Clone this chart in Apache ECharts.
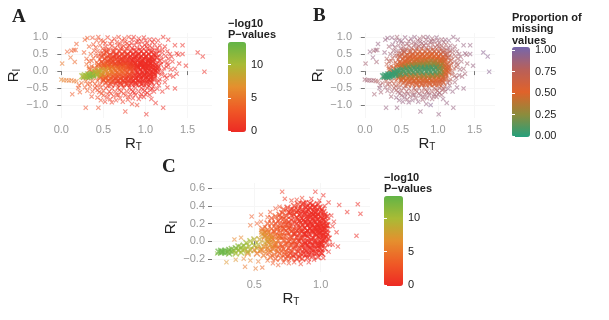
<!DOCTYPE html>
<html><head><meta charset="utf-8">
<style>html,body{margin:0;padding:0;background:#fff}#c{width:609px;height:320px}</style>
<script src="https://cdn.jsdelivr.net/npm/echarts@6/dist/echarts.min.js"></script></head>
<body><div id="c"></div>
<script>
// [R_T, R_I, -log10 P, proportion of missing values]
const outerAB=[[.29,-1.08,2,.9],[.44,-1.08,2,.9],[.76,-1.19,1,.9],[1.01,-1.27,0,.9],[.84,-.97,1,.9],[.9,-1,1,.95],[1.07,-.82,0,.9],[1.12,-.94,0,.9],[1.21,-1.08,0,.9],[1.35,-.51,0,.9],[1.26,-.48,0,.9],[1.7,-.02,0,.95],[1.68,.43,0,.95],[1.62,.55,0,.95],[1.44,.76,0,.9],[1.35,.76,0,.9],[1.21,1,0,.9],[1.27,.92,0,.9],[1.15,.9,0,.9],[1.44,.5,0,.9],[1.37,.52,0,.9],[1.39,.48,0,.85],[1.4,.22,0,.85],[1.48,.16,0,.9],[1.35,.07,0,.85],[1.32,.28,0,.85],[.18,.8,3,.9],[.31,.97,3,.9],[.28,.92,3,.9],[.15,.62,3,.9],[.12,.6,3,.85],[.07,.57,3,.9],[.11,.4,4,.9],[.01,.22,5,.85],[.16,.27,4,.85],[.17,.62,3,.85],[.33,.72,3,.85],[.35,.5,3,.85],[.3,.36,3,.8],[.27,.55,3,.9],[0,-.25,6,.85],[.03,-.27,6,.85],[.06,-.27,5,.85],[.09,-.28,5,.85],[.12,-.27,5,.85],[.15,-.29,5,.8],[.18,-.3,5,.8],[.13,-.68,3,.85],[.2,-.5,3,.9],[.21,-.42,3,.85],[.22,-.62,3,.85],[.24,-.35,4,.8],[1.27,.18,0,.8],[1.29,-.12,0,.85],[1.33,-.16,0,.85],[1.25,-.2,0,.85],[1.37,-.08,0,.85],[1.3,.05,0,.85],[1.23,-.33,0,.85],[1.2,-.6,0,.9],[1.14,-.52,0,.9],[1.16,-.42,0,.85]];
const sparseAB=[[.37,.98,2,.9],[.42,.9,2,.9],[.44,1,2,.85],[.5,.88,2,.9],[.55,.99,1,.9],[.58,.8,1,.85],[.63,.95,1,.9],[.66,.85,1,.85],[.68,1,1,.9],[.72,.9,1,.85],[.75,.96,1,.85],[.78,.82,1,.85],[.8,1,1,.85],[.84,.92,0,.85],[.86,1,0,.9],[.89,.85,0,.85],[.92,.96,0,.85],[.95,.88,0,.85],[.98,.99,0,.9],[1.02,.82,0,.85],[1.05,.93,0,.85],[1.08,.85,0,.85],[.38,.78,2,.9],[.41,.7,2,.85],[.46,.76,2,.85],[.49,.66,2,.85],[.53,.72,1,.8],[.56,.63,1,.8],[.6,.74,1,.8],[.64,.68,1,.8],[.67,.76,1,.8],[.7,.66,1,.8],[.74,.74,1,.8],[.77,.66,1,.8],[.81,.75,0,.8],[.84,.67,0,.8],[.87,.76,0,.8],[.9,.68,0,.8],[.93,.78,0,.8],[.96,.7,0,.8],[.99,.77,0,.8],[1.02,.66,0,.8],[1.05,.74,0,.8],[1.08,.68,0,.8],[1.11,.78,0,.8],[1.14,.68,0,.85],[1.17,.75,0,.85],[1.2,.63,0,.85],[1.23,.72,0,.85],[1.26,.58,0,.85],[1.29,.5,0,.85],[1.24,.44,0,.8],[1.27,.36,0,.8],[1.22,.28,0,.8],[1.25,.12,0,.75],[1.2,.54,0,.8],[1.16,.58,0,.8],[.36,-.75,2,.85],[.43,-.78,2,.9],[.45,-.62,2,.85],[.47,-.86,2,.9],[.5,-.72,2,.85],[.52,-.9,1,.9],[.55,-.68,1,.85],[.58,-.83,1,.85],[.6,-.92,1,.9],[.62,-.74,1,.85],[.65,-.86,1,.9],[.68,-.7,1,.85],[.7,-.8,1,.85],[.73,-.9,1,.9],[.76,-.72,1,.85],[.79,-.84,1,.85],[.82,-.68,0,.85],[.85,-.8,0,.85],[.88,-.7,0,.85],[.92,-.82,0,.85],[.95,-.68,0,.85],[.98,-.76,0,.85],[1.02,-.64,0,.85],[1.05,-.7,0,.85],[1.1,-.6,0,.85],[.28,-.48,3,.85],[.31,-.58,3,.85],[.34,-.46,3,.8],[.37,-.6,2,.85],[.4,-.5,2,.8],[.43,-.56,2,.8],[.47,-.48,2,.8],[.5,-.58,2,.8],[.53,-.5,1,.8],[.57,-.6,1,.8],[.6,-.52,1,.8],[.64,-.6,1,.8],[.67,-.5,1,.8],[.71,-.6,1,.8],[.74,-.5,1,.8],[.78,-.6,1,.8],[.81,-.5,0,.8],[.85,-.6,0,.8],[.88,-.5,0,.8],[.92,-.6,0,.8],[.95,-.5,0,.8],[.99,-.58,0,.8],[1.02,-.5,0,.8],[1.06,-.56,0,.8],[1.09,-.46,0,.8],[1.13,-.34,0,.8],[.3,.2,4,.7],[.33,.28,3,.75],[.36,.14,3,.7],[.38,.38,3,.75],[.41,.46,2,.8],[.43,.58,2,.85],[.39,.6,2,.85],[.46,.34,2,.75],[.47,.52,2,.8],[.51,.6,1,.8],[.26,-.2,5,.7],[.29,-.3,4,.75],[.32,-.22,4,.7],[.34,-.36,3,.75],[.37,-.3,3,.7],[.4,-.38,3,.7],[.43,-.28,3,.65],[.46,-.4,2,.7],[.49,-.32,2,.65],[1.22,.08,0,.75],[1.18,.2,0,.7],[1.19,-.1,0,.75],[1.17,-.24,0,.75],[1.2,-.02,0,.75],[.47,.9,2,.88],[.52,.82,1,.85],[.6,.88,1,.85],[.7,.8,1,.85],[.76,.86,1,.85],[.83,.82,0,.85],[.91,.88,0,.85],[1,.9,0,.85],[1.1,.92,0,.88],[.54,.62,1,.8],[.62,.62,1,.78],[.72,.7,1,.78],[.79,.72,1,.78],[.86,.62,0,.75],[.94,.64,0,.75],[1.01,.72,0,.78],[1.07,.62,0,.8],[1.13,.62,0,.8],[1.19,.42,0,.78],[1.26,.24,0,.8],[1.31,.42,0,.85],[.48,-.66,2,.85],[.54,-.78,1,.88],[.59,-.66,1,.85],[.66,-.7,1,.85],[.74,-.66,1,.85],[.8,-.76,1,.85],[.87,-.64,0,.85],[.94,-.74,0,.85],[1,-.68,0,.85],[1.08,-.52,0,.82],[1.16,-.3,0,.8],[1.23,-.14,0,.8],[.42,-.44,2,.75],[.55,-.44,1,.75],[.69,-.56,1,.78],[.83,-.55,0,.78],[.97,-.54,0,.78],[1.04,-.44,0,.72],[.44,.44,2,.72],[.36,.3,3,.72],[.42,.26,3,.68],[.33,.1,4,.68],[.38,-.2,4,.62],[.31,-.38,3,.78]];
const midAB=[[.5,.5,2,.7],[.54,.56,2,.7],[.58,.48,1,.65],[.62,.57,1,.65],[.65,.5,1,.65],[.69,.58,1,.65],[.72,.5,1,.6],[.75,.57,1,.6],[.79,.5,1,.6],[.82,.58,0,.6],[.85,.5,0,.6],[.89,.58,0,.65],[.92,.5,0,.6],[.95,.58,0,.65],[.98,.5,0,.65],[1.01,.57,0,.65],[1.04,.5,0,.65],[1.07,.56,0,.7],[1.1,.49,0,.7],[1.13,.5,0,.75],[.48,.42,2,.65],[.52,.36,2,.6],[.55,.44,2,.6],[.59,.36,1,.55],[.62,.43,1,.55],[.66,.37,1,.55],[.69,.44,1,.55],[.72,.36,1,.5],[.76,.43,1,.5],[.79,.36,1,.5],[.82,.44,0,.5],[.86,.36,0,.5],[.89,.44,0,.5],[.92,.36,0,.45],[.95,.44,0,.5],[.98,.36,0,.5],[1.01,.44,0,.55],[1.04,.36,0,.55],[1.07,.42,0,.6],[1.1,.35,0,.6],[1.14,.4,0,.7],[1.17,.3,0,.7],[.44,.2,3,.6],[.48,.27,2,.6],[.51,.18,2,.55],[.55,.28,2,.55],[.58,.2,2,.5],[.61,.29,2,.5],[.64,.22,1,.45],[.67,.3,1,.45],[.7,.22,1,.45],[.73,.3,1,.45],[.76,.23,1,.4],[.79,.3,1,.4],[.82,.22,1,.4],[.85,.3,0,.4],[.88,.23,0,.35],[.91,.31,0,.4],[.94,.22,0,.35],[.97,.3,0,.35],[1,.23,0,.4],[1.03,.3,0,.45],[1.06,.22,0,.5],[1.09,.28,0,.55],[1.12,.2,0,.6],[1.15,.13,0,.65],[.46,-.2,3,.6],[.5,-.26,2,.6],[.53,-.18,3,.55],[.56,-.28,2,.55],[.59,-.4,1,.65],[.62,-.26,2,.55],[.65,-.38,1,.6],[.68,-.27,1,.55],[.71,-.4,1,.6],[.74,-.27,1,.55],[.77,-.38,1,.6],[.8,-.26,1,.55],[.83,-.38,0,.6],[.86,-.27,0,.55],[.89,-.39,0,.6],[.92,-.26,0,.55],[.95,-.38,0,.6],[.98,-.25,0,.55],[1.01,-.38,0,.6],[1.04,-.25,0,.6],[1.07,-.34,0,.65],[1.1,-.22,0,.65],[.53,-.34,2,.6],[.48,-.12,4,.5],[.56,-.14,3,.45],[.62,-.17,3,.45],[.68,-.16,2,.45],[.74,-.18,2,.45],[.8,-.17,1,.45],[.86,-.18,1,.45],[.92,-.16,0,.45],[.98,-.15,0,.45],[1.04,-.15,0,.5],[1.1,-.1,0,.6],[1.14,-.03,0,.65],[1.1,.06,0,.55],[1.14,.06,0,.6],[.4,.08,4,.55],[.44,.12,4,.5],[.48,.1,4,.45],[.52,.11,3,.4],[.42,-.08,5,.5],[.37,-.06,6,.5],[.34,.04,4,.6],[.56,.16,3,.4]];
const denseAB=[[.56,.34,2,.58],[.61,.37,2,.55],[.65,.45,1,.55],[.7,.33,1,.52],[.74,.4,1,.5],[.78,.47,1,.55],[.83,.34,0,.5],[.87,.42,0,.5],[.91,.47,0,.52],[.96,.33,0,.5],[1,.42,0,.52],[1.04,.3,0,.5],[1.08,.36,0,.58],[.6,-.32,2,.58],[.66,-.3,1,.56],[.7,-.35,1,.58],[.75,-.33,1,.56],[.79,-.37,1,.58],[.84,-.32,0,.56],[.88,-.34,0,.58],[.93,-.33,0,.56],[.97,-.36,0,.58],[1.02,-.31,0,.58],[1.06,-.29,0,.6],[.5,.22,3,.52],[.54,.2,3,.5],[.59,.25,2,.48],[.63,.18,2,.45],[.68,.25,2,.42],[.72,.2,1,.42],[.77,.27,1,.4],[.81,.19,1,.38],[.86,.26,0,.36],[.9,.19,0,.34],[.95,.26,0,.34],[.99,.19,0,.38],[1.04,.25,0,.42],[1.08,.18,0,.48],[1.12,.12,0,.55],[.52,-.22,3,.5],[.58,-.22,3,.48],[.64,-.21,2,.48],[.7,-.23,2,.48],[.76,-.22,1,.48],[.82,-.23,1,.48],[.88,-.22,0,.48],[.94,-.22,0,.48],[1,-.21,0,.5],[1.06,-.2,0,.55],[1.1,-.16,0,.6],[.46,-.14,4,.45],[.51,-.16,4,.42],[.57,-.1,4,.35],[.63,-.12,3,.35],[.69,-.11,3,.33],[.75,-.13,2,.35],[.81,-.12,1,.33],[.87,-.13,1,.33],[.93,-.12,0,.33],[.99,-.12,0,.35],[1.05,-.11,0,.4],[1.1,-.05,0,.5],[1.12,.01,0,.55],[1.08,.1,0,.45],[.5,.14,4,.42],[.55,.12,4,.36],[.6,.15,3,.34],[.65,.17,2,.32],[.7,.12,2,.3],[.75,.18,2,.3],[.8,.13,1,.28],[.85,.19,1,.28],[.9,.12,0,.26],[.95,.19,0,.28],[1,.12,0,.28],[1.04,.17,0,.34],[.6,.12,3,.3],[.66,.14,2,.3],[.7,.16,2,.3],[.74,.14,2,.28],[.78,.16,2,.28],[.82,.14,1,.28],[.86,.16,1,.25],[.9,.14,0,.25],[.94,.16,0,.25],[.98,.14,0,.28],[1.02,.15,0,.3],[1.06,.12,0,.4],[.62,-.06,4,.3],[.68,-.08,3,.3],[.74,-.07,3,.3],[.8,-.1,2,.3],[.86,-.08,1,.28],[.92,-.09,0,.28],[.98,-.08,0,.28],[1.04,-.07,0,.35],[1.08,-.02,0,.45],[.57,.08,5,.15],[.62,.07,5,.12],[.67,.09,4,.1],[.72,.08,4,.1],[.77,.1,3,.1],[.82,.09,2,.08],[.87,.1,1,.08],[.92,.09,0,.08],[.97,.1,0,.1],[1.02,.08,0,.2],[.58,.02,6,.1],[.64,.03,5,.06],[.7,.04,4,.06],[.76,.03,3,.06],[.82,.04,2,.05],[.88,.03,1,.05],[.94,.04,0,.05],[1,.03,0,.1],[1.04,.02,0,.25],[.6,-.02,5,.12],[.66,-.03,4,.1],[.72,-.01,4,.1],[.78,-.03,3,.1],[.84,-.01,2,.1],[.9,-.03,0,.1],[.96,-.02,0,.1],[1.02,-.03,0,.2],[.52,.04,7,.08],[.48,.02,8,.06],[.53,-.01,7,.08],[.45,-.03,8,.08],[.49,-.05,8,.06],[.44,-.07,10,.04],[.47,-.1,7,.2],[.41,-.05,10,.04],[.38,-.1,11,.03],[.42,-.11,10,.04],[.35,-.11,12,.03],[.38,-.13,12,.02],[.33,-.13,12,.02],[.3,-.15,12,.02],[.34,-.16,12,.02],[.27,-.16,11,.03],[.31,-.17,11,.03],[.25,-.15,10,.04],[.55,-.07,6,.12],[.36,-.08,11,.03],[.32,-.1,11,.03],[.28,-.12,10,.04],[.4,-.02,9,.05],[.44,.02,8,.06]];
// [R_T, R_I, -log10 P]
const outerC=[[.71,.56,1],[.73,.48,1],[.96,.56,0],[1.02,.52,0],[1.06,.44,0],[1.14,.41,0],[1.2,.33,0],[1.28,.42,0],[1.3,.31,0],[1.27,.06,0],[1.13,-.06,0],[1.09,-.04,0],[1.12,.1,0],[1.08,.29,0],[1.1,.22,0],[1.09,.17,0],[.43,-.29,5],[.51,-.31,5],[.56,-.3,4],[.29,-.24,7],[.22,-.14,11],[.35,.02,6],[.4,.04,6],[.48,.28,3],[.55,.3,3],[.52,.2,3],[.47,.18,4],[.55,.22,3],[.58,.16,3],[.6,.27,3],[.62,.33,2],[.66,.37,2],[.69,.39,2],[.78,.46,1],[.82,.47,1],[.86,.49,1],[.89,.44,0],[.93,.48,0],[.99,.46,0],[1.03,.4,0],[.36,-.21,7],[.42,-.2,6],[.47,-.22,6],[.53,-.23,5],[.6,-.22,4],[.64,-.25,3],[.68,-.27,3],[.72,-.24,2],[.76,-.25,2],[.8,-.24,1],[.85,-.26,1],[.91,-.24,0],[.95,-.21,0],[1.02,-.19,0],[1.06,-.12,0],[1.07,-.04,0]];
const midC=[[.6,.2,3],[.63,.26,2],[.66,.2,2],[.69,.3,2],[.72,.25,2],[.75,.38,1],[.77,.32,1],[.8,.4,1],[.83,.35,1],[.86,.42,1],[.89,.38,0],[.92,.43,0],[.95,.38,0],[.98,.42,0],[1.01,.36,0],[1.03,.3,0],[.72,.36,2],[.8,.3,1],[.88,.32,0],[.96,.32,0],[1.02,.24,0],[1.05,.18,0],[1.04,.1,0],[1.06,.03,0],[1.04,-.02,0],[.63,.14,3],[.67,.13,3],[.7,.18,2],[.74,.19,2],[.74,.12,2],[.78,.24,1],[.78,.17,1],[.82,.27,1],[.82,.2,1],[.86,.26,1],[.86,.18,1],[.9,.25,0],[.9,.18,0],[.94,.26,0],[.94,.18,0],[.98,.25,0],[.98,.18,0],[1.02,.16,0],[.62,-.18,4],[.66,-.2,3],[.7,-.19,3],[.74,-.2,2],[.78,-.19,2],[.82,-.2,1],[.86,-.2,1],[.9,-.19,0],[.94,-.17,0],[.98,-.18,0],[1.01,-.14,0],[1.03,-.08,0],[.52,-.14,5],[.57,-.16,5],[.61,-.13,4],[.65,-.15,4],[.69,-.14,3],[.73,-.15,3],[.77,-.14,2],[.81,-.15,1],[.85,-.14,1],[.89,-.15,0],[.93,-.13,0],[.97,-.14,0],[1,-.09,0],[.45,-.14,6],[.5,-.1,6],[.55,-.1,5],[.6,-.08,5],[.64,-.09,4],[.68,-.08,4],[.72,-.09,3],[.76,-.08,2],[.8,-.09,2],[.84,-.08,1],[.88,-.09,0],[.92,-.08,0],[.96,-.09,0],[1,-.04,0],[.58,.1,4],[.62,.08,4],[.66,.07,3],[.7,.1,3],[.7,.05,3],[.74,.06,3],[.78,.11,2],[.78,.05,2],[.82,.12,1],[.82,.05,1],[.86,.11,1],[.86,.04,1],[.9,.12,0],[.9,.05,0],[.94,.11,0],[.94,.04,0],[.98,.12,0],[.98,.05,0],[1.02,.06,0],[1.02,.01,0],[.64,.02,5],[.68,.01,4],[.72,.01,3],[.76,.0,2],[.8,.0,2],[.84,.0,1],[.88,-.01,0],[.92,-.01,0],[.96,-.01,0],[1,-.01,0],[.66,-.04,4],[.7,-.04,3],[.74,-.03,3],[.78,-.04,2],[.82,-.04,2],[.86,-.04,1],[.9,-.04,0],[.94,-.04,0],[.98,-.05,0],[.76,.15,2],[.84,.15,1],[.92,.15,0],[.96,.15,0],[1,.1,0],[.88,.08,0],[.96,.08,0],[.8,.08,1],[.72,.14,2],[.88,.22,0],[.96,.22,0],[.92,.22,0],[.84,.23,0],[.76,.22,1],[.92,.3,0],[.84,.3,1],[.96,.28,0],[1,.28,0],[1,.2,0],[1,.14,0],[1,.06,0],[1.04,.05,0],[1.04,.14,0]];
const denseC=[[.56,.14,4],[.58,.05,5],[.6,.13,4],[.61,-.02,5],[.63,.2,3],[.63,.04,4],[.65,.11,3],[.65,-.05,4],[.66,.28,3],[.67,.16,3],[.68,.23,2],[.68,-.12,4],[.69,.06,3],[.7,.26,2],[.7,.14,3],[.71,-.06,3],[.71,.32,2],[.72,.19,2],[.72,.05,3],[.73,-.12,3],[.74,.29,2],[.74,.24,2],[.75,.1,2],[.75,-.02,3],[.75,-.17,2],[.76,.33,1],[.76,.18,2],[.77,.05,2],[.77,-.11,2],[.78,.29,1],[.78,.36,1],[.79,.13,2],[.79,-.01,2],[.79,-.16,1],[.8,.22,1],[.8,.35,1],[.81,.08,1],[.81,-.06,1],[.82,.33,1],[.82,.15,1],[.83,.42,1],[.83,.25,1],[.83,.01,1],[.83,-.12,1],[.84,.37,1],[.84,.09,1],[.84,-.18,1],[.85,.21,1],[.85,.31,0],[.85,.03,1],[.86,.14,1],[.86,.36,0],[.86,-.07,1],[.87,.24,0],[.87,.43,0],[.87,.08,0],[.87,-.14,0],[.88,.3,0],[.88,.15,0],[.88,-.03,0],[.89,.34,0],[.89,.21,0],[.89,.07,0],[.89,-.11,0],[.9,.4,0],[.9,.28,0],[.9,.12,0],[.9,0,0],[.91,.35,0],[.91,.2,0],[.91,.08,0],[.91,-.06,0],[.91,-.15,0],[.92,.27,0],[.92,.14,0],[.92,.38,0],[.93,.02,0],[.93,.2,0],[.93,.32,0],[.93,-.1,0],[.94,.41,0],[.94,.09,0],[.94,.3,0],[.95,.15,0],[.95,.23,0],[.95,-.05,0],[.95,.34,0],[.96,.01,0],[.96,.12,0],[.96,.39,0],[.96,-.12,0],[.97,.28,0],[.97,.19,0],[.97,.07,0],[.97,.34,0],[.98,-.03,0],[.98,.15,0],[.98,.3,0],[.99,.38,0],[.99,.22,0],[.99,.09,0],[.99,-.08,0],[1,.33,0],[1,.17,0],[1,.02,0],[1,-.13,0],[1.01,.26,0],[1.01,.12,0],[1.01,-.03,0],[1.02,.33,0],[1.02,.2,0],[1.02,.08,0],[1.03,.27,0],[1.03,.14,0],[1.03,.03,0],[1.04,.22,0],[1.04,.18,0],[1.05,.08,0],[1.05,.28,0]];
const tailC=[[.66,-.02,6],[.68,.05,5],[.63,.06,6],[.65,-.08,6],[.6,.1,6],[.61,-.1,6],[.58,.06,7],[.6,.0,7],[.62,.02,7],[.56,.11,6],[.56,-.1,6],[.56,.08,7],[.6,.04,7],[.54,.02,8],[.58,-.02,8],[.62,-.04,7],[.5,.02,9],[.53,-.04,9],[.57,-.06,7],[.47,.0,10],[.5,-.05,10],[.46,-.06,10],[.44,-.02,10],[.42,-.05,11],[.43,-.09,10],[.47,-.1,9],[.52,-.08,8],[.4,-.07,11],[.41,-.1,10],[.38,-.06,11],[.38,-.1,11],[.36,-.08,12],[.35,-.11,11],[.33,-.09,12],[.33,-.12,12],[.31,-.1,12],[.3,-.12,13],[.28,-.11,13],[.28,-.13,13],[.26,-.12,13],[.25,-.13,13],[.25,-.11,13],[.23,-.12,13],[.45,-.12,9],[.4,-.13,10],[.36,-.14,10],[.31,-.14,12]];
const sparsePointsAB=[...outerAB,...sparseAB];
const densePointsAB=[...midAB,...denseAB];
const sparsePointsC=[...outerC];
const densePointsC=[...midC,...denseC,...tailC];
const xTicksAB=[0,0.5,1,1.5], yTicksAB=[-1,-0.5,0,0.5,1];
const xTicksC=[0.5,1], yTicksC=[-0.2,0,0.2,0.4,0.6];
const pTicksAB=[0,5,10], mTicks=[0,0.25,0.5,0.75,1], pTicksC=[0,5,10];
const pColors=['#ED2A24','#EF5A26','#E58F2E','#A9BB35','#62B446'];
const mColors=['#25A07C','#8C8C3C','#E0622A','#B8605A','#7566AC'];

const F='"Liberation Sans",Arial,sans-serif';
const X='path://M0,1.6 L1.6,0 L5,3.4 L8.4,0 L10,1.6 L6.6,5 L10,8.4 L8.4,10 L5,6.6 L1.6,10 L0,8.4 L3.4,5z';
const panels=[
 {l:55,t:33,w:157,h:85,xr:[-.075,1.79],yr:[-1.38,1.12],xt:xTicksAB,yt:yTicksAB,s:sparsePointsAB,d:densePointsAB},
 {l:359,t:33,w:136,h:85,xr:[-.08,1.78],yr:[-1.38,1.12],xt:xTicksAB,yt:yTicksAB,s:sparsePointsAB,d:densePointsAB},
 {l:212,t:183,w:158,h:89,xr:[.181,1.372],yr:[-.35,.66],xt:xTicksC,yt:yTicksC,s:sparsePointsC,d:densePointsC}];
const bars=[
 {l:228,t:42,w:18,h:90,r:[-.15,13.4],ticks:pTicksAB,f:v=>String(v),colors:pColors,dim:2,s:[0,1]},
 {l:512,t:47,w:18,h:90,r:[-.012,1.035],ticks:mTicks,f:v=>v.toFixed(2),colors:mColors,dim:3,s:[2,3]},
 {l:384,t:196,w:19,h:90,r:[-.15,13.3],ticks:pTicksC,f:v=>String(v),colors:pColors,dim:2,s:[4,5]}];
const minus=s=>s.replace('-','\u2212');
const grid=[],xAxis=[],yAxis=[],series=[],visualMap=[],title=[];
panels.forEach((p,i)=>{
 grid.push({left:p.l,top:p.t,width:p.w,height:p.h,show:false});
 const rich={a:{fontFamily:F,fontSize:15,color:'#222'},b:{fontFamily:F,fontSize:10,color:'#222',verticalAlign:'bottom',padding:[7,0,0,0]}};
 xAxis.push({type:'value',gridIndex:i,min:p.xr[0],max:p.xr[1],name:'{a|R}{b|T}',nameLocation:'middle',nameGap:i==2?18:17,nameTextStyle:{rich},
  axisLine:{show:false},axisTick:{show:true,length:4,lineStyle:{color:'#777'},customValues:p.xt},
  axisLabel:{margin:i==2?7:6,color:'#999',fontFamily:F,fontSize:11,customValues:p.xt,formatter:v=>minus(v.toFixed(1))},
  splitLine:{show:true,lineStyle:{color:'#f6f6f6'}}});
 yAxis.push({type:'value',gridIndex:i,min:p.yr[0],max:p.yr[1],name:'{a|R}{b|I}',nameLocation:'middle',nameGap:i==2?31:i==1?30:31,nameRotate:90,nameTextStyle:{rich},
  axisLine:{show:false},axisTick:{show:true,length:4,lineStyle:{color:'#777'},customValues:p.yt},
  axisLabel:{margin:7,color:'#999',fontFamily:F,fontSize:11,customValues:p.yt,formatter:v=>minus(v.toFixed(1))},
  splitLine:{show:true,lineStyle:{color:'#f6f6f6'}}});
 series.push({type:'scatter',xAxisIndex:i,yAxisIndex:i,data:p.s,symbol:X,symbolSize:5,
  encode:{x:0,y:1},itemStyle:{opacity:.55},silent:true,animation:false,clip:false});
 series.push({type:'scatter',xAxisIndex:i,yAxisIndex:i,data:p.d,symbol:X,symbolSize:7,
  encode:{x:0,y:1},itemStyle:{opacity:.68},silent:true,animation:false,clip:false});
});
bars.forEach((b,j)=>{
 const gi=grid.length;
 grid.push({left:b.l,top:b.t,width:b.w,height:b.h,show:false});
 xAxis.push({type:'value',gridIndex:gi,show:false,min:0,max:1});
 const base={type:'value',gridIndex:gi,min:b.r[0],max:b.r[1],z:10,axisLine:{show:false},splitLine:{show:false}};
 yAxis.push({...base,position:'right',axisTick:{show:true,inside:true,length:3,lineStyle:{color:'#fff'},customValues:b.ticks},
  axisLabel:{margin:5,color:'#222',fontFamily:F,fontSize:11,customValues:b.ticks,formatter:b.f}});
 yAxis.push({...base,position:'left',axisTick:{show:true,inside:true,length:3,lineStyle:{color:'#fff'},customValues:b.ticks},axisLabel:{show:false}});
 visualMap.push({type:'continuous',seriesIndex:b.s,dimension:b.dim,min:b.r[0],max:b.r[1],calculable:false,hoverLink:false,
  left:b.l,top:b.t,itemWidth:b.w,itemHeight:b.h,padding:0,text:null,showLabel:false,inRange:{color:b.colors}});
});
const T=(txt,left,top,style)=>title.push({text:txt,left,top,padding:0,itemGap:0,textStyle:style});
const letter={fontFamily:'"Liberation Serif",serif',fontWeight:'bold',fontSize:19,color:'#222'};
T('A',12,8,letter);T('B',313,7,letter);T('C',162,158,letter);
const leg={fontFamily:F,fontWeight:'bold',fontSize:11,color:'#222',lineHeight:11.5};
T('\u2212log10\nP\u2212values',228,18,leg);
T('Proportion of\nmissing\nvalues',512,12,leg);
T('\u2212log10\nP\u2212values',384,172,leg);
const chart=echarts.init(document.getElementById('c'),null,{renderer:'canvas'});
chart.setOption({animation:false,backgroundColor:'#fff',tooltip:{show:false},grid,xAxis,yAxis,series,visualMap,title});
</script></body></html>
